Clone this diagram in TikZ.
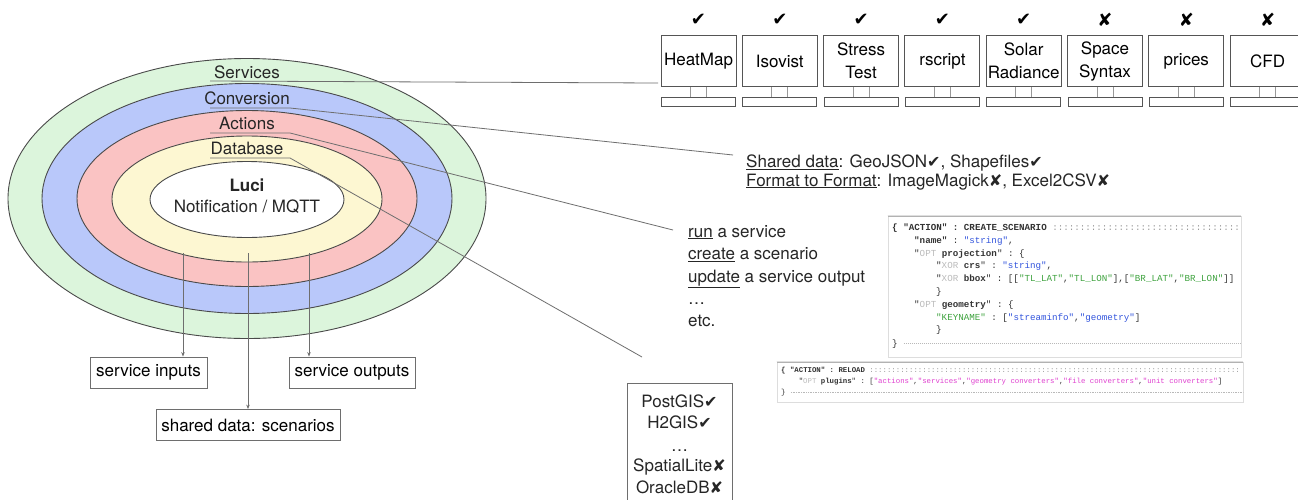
\documentclass[tikz,border=0pt]{standalone}
\usepackage{fontspec}
\setmainfont{TeX Gyre Heros}
\setmonofont{Liberation Mono}
\newfontfamily\symfont{DejaVu Sans}
\usetikzlibrary{shapes.geometric,arrows.meta}
\definecolor{cgreen}{HTML}{DCF5DC}
\definecolor{cblue}{HTML}{B9C8FA}
\definecolor{cred}{HTML}{FAC3C3}
\definecolor{cyellow}{HTML}{FDF7D2}
\definecolor{ringline}{HTML}{4A4A4A}
\definecolor{connline}{HTML}{6E6E6E}
\definecolor{monline}{HTML}{555555}
\definecolor{standline}{HTML}{999999}
\definecolor{codetext}{HTML}{333333}
\definecolor{codeblue}{HTML}{3355DD}
\definecolor{codegreen}{HTML}{3FA33F}
\definecolor{codegray}{HTML}{BBBBBB}
\definecolor{codemag}{HTML}{E040D0}
\definecolor{codeborder}{HTML}{DDDDDD}
\newcommand\ck{{\symfont\fontsize{16}{16}\selectfont ✔}}
\newcommand\xk{{\symfont\fontsize{16}{16}\selectfont ✘}}
\newcommand\bigck{{\symfont\fontsize{18}{18}\selectfont ✔}}
\newcommand\bigxk{{\symfont\fontsize{18}{18}\selectfont ✘}}
\newcommand\opt{\textcolor{codegray}{OPT}}
\newcommand\xor{\textcolor{codegray}{XOR}}
\newcommand\cb[1]{\textcolor{codeblue}{#1}}
\newcommand\cg[1]{\textcolor{codegreen}{#1}}
\newcommand\cm[1]{\textcolor{codemag}{#1}}
\newcommand\colonsA{::::::::::::::::::::::::::::::::::}
\newcommand\colonsB{::::::::::::::::::::::::::::::::::::::::::::::::::::::::::::::::::::::::::::::::::::}
\begin{document}
\begin{tikzpicture}[x=1pt,y=-1pt,
  ring/.style={ellipse, draw=ringline, line width=0.9pt, inner sep=0pt},
  lbl/.style={font=\fontsize{17}{20}\selectfont, inner sep=0pt, text=black!85},
  conn/.style={draw=connline, line width=0.8pt},
  arr/.style={conn, -{Stealth[length=4.5pt,width=3.5pt]}},
  plainbox/.style={draw=connline, line width=0.8pt, inner sep=0pt, minimum height=31pt, font=\fontsize{17}{20}\selectfont},
  screen/.style={draw=monline, line width=1pt, minimum width=75pt, minimum height=51pt, inner sep=0pt, align=center, font=\fontsize{17}{23}\selectfont},
  basebar/.style={draw=monline, line width=1pt, minimum width=74pt, minimum height=9pt, inner sep=0pt},
  stand/.style={draw=standline, line width=0.8pt},
  markn/.style={inner sep=0pt},
  txt/.style={font=\fontsize{17}{20}\selectfont, anchor=base west, inner sep=0pt, text=black!85},
  txtc/.style={font=\fontsize{17}{20}\selectfont, anchor=base, inner sep=0pt, text=black!85},
  codebox/.style={draw=codeborder, line width=0.8pt, fill=white, inner sep=0pt},
  codeA/.style={font=\fontsize{9.2}{11}\ttfamily, anchor=base west, inner sep=0pt, text=codetext},
  codeB/.style={font=\fontsize{7.35}{9}\ttfamily, anchor=base west, inner sep=0pt, text=codetext},
  topline/.style={draw=gray!60, double=gray!25, double distance=0.7pt, line width=0.6pt}
]
\useasboundingbox (0,0) rectangle (1298,499);
\fill[white] (0,0) rectangle (1298,499);

% ---------- rings ----------
\node[ring, fill=cgreen,  minimum width=478pt, minimum height=280pt] (rsvc) at (247,198.5) {};
\node[ring, fill=cblue,   minimum width=410pt, minimum height=230pt] (rconv) at (247,198.5) {};
\node[ring, fill=cred,    minimum width=340pt, minimum height=176pt] (ract) at (247,198.5) {};
\node[ring, fill=cyellow, minimum width=270pt, minimum height=126pt] (rdb) at (247,199) {};
\node[ring, fill=white,   minimum width=194pt, minimum height=76pt] (rcore) at (247,199.5) {};

\node[lbl] (lsvc)  at (247,72) {Services};
\node[lbl] (lconv) at (247,98) {Conversion};
\node[lbl] (lact)  at (247,123) {Actions};
\node[lbl] (ldb)   at (247,148) {Database};
\node[lbl, font=\fontsize{17}{20}\selectfont\bfseries] (luci) at (247,185) {Luci};
\node[lbl] (notif) at (247,207) {Notification / MQTT};

% ---------- monitors ----------
\foreach \i/\t/\m in {0/{HeatMap}/\bigck,1/{Isovist}/\bigck,2/{Stress\\Test}/\bigck,3/{rscript}/\bigck,4/{Solar\\Radiance}/\bigck,5/{Space\\Syntax}/\bigxk,6/{prices}/\bigxk,7/{CFD}/\bigxk}{
  \pgfmathsetmacro\cx{698.5+\i*81.3}
  \node[screen] (s\i) at (\cx,61) {\t};
  \node[basebar] (b\i) at (\cx,102) {};
  \draw[stand] ([xshift=-8pt]s\i.south) -- ([xshift=-8pt]b\i.north);
  \draw[stand] ([xshift=8pt]s\i.south) -- ([xshift=8pt]b\i.north);
  \node[markn] (c\i) at (\cx,20) {\m};
}

% ---------- connectors from ring labels ----------
\coordinate (k1a) at (210,81);
\coordinate (k1b) at (658,83);
\coordinate (k2a) at (210,108);
\coordinate (k2b) at (290,108);
\coordinate (k2c) at (733,155);
\coordinate (k3a) at (210,133);
\coordinate (k3b) at (290,133);
\coordinate (k3c) at (673,230);
\coordinate (k4a) at (210,158);
\coordinate (k4b) at (290,158);
\coordinate (k4c) at (642,357);
\draw[conn] (k1a) -- (k1b);
\draw[conn] (k2a) -- (k2b) -- (k2c);
\draw[conn] (k3a) -- (k3b) -- (k3c);
\draw[conn] (k4a) -- (k4b) -- (k4c);

% ---------- conversion text ----------
\node[txt] (conv1) at (746,167) {\underline{Shared data}: GeoJSON\ck, Shapefiles\ck};
\node[txt] (conv2) at (746,186) {\underline{Format to Format}: ImageMagick\xk, Excel2CSV\xk};

% ---------- actions text ----------
\node[txt] (act1) at (688,237) {\underline{run} a service};
\node[txt] (act2) at (688,259.5) {\underline{create} a scenario};
\node[txt] (act3) at (688,282) {\underline{update} a service output};
\node[txt] (act4) at (688,304) {\ldots};
\node[txt] (act5) at (688,326) {etc.};

% ---------- code block 1 ----------
\node[codebox, minimum width=353pt, minimum height=141pt] (cb1) at (1064.5,286.5) {};
\begin{scope}
\clip (cb1.north west) rectangle (cb1.south east);
\node[codeA] (q1) at (892,230) {\textbf{\{ "ACTION" : CREATE\_SCENARIO} \textcolor{gray!80}{\colonsA}};
\node[codeA] (q2) at (914,243) {\textbf{"name"} : \cb{"string"},};
\node[codeA] (q3) at (914,256) {"\opt{} \textbf{projection}" : \{};
\node[codeA] (q4) at (936,268) {"\xor{} \textbf{crs}" : \cb{"string"},};
\node[codeA] (q5) at (936,281) {"\xor{} \textbf{bbox}" : [[\cg{"TL\_LAT"},\cg{"TL\_LON"}],[\cg{"BR\_LAT"},\cg{"BR\_LON"}]]};
\node[codeA] (q6) at (936,294) {\}};
\node[codeA] (q7) at (914,307) {"\opt{} \textbf{geometry}" : \{};
\node[codeA] (q8) at (936,320) {\cg{"KEYNAME"} : [\cb{"streaminfo"},\cb{"geometry"}]};
\node[codeA] (q9) at (936,332) {\}};
\node[codeA] (q10) at (892,346) {\}};
\draw[gray!55, line width=0.6pt, dash pattern=on 1.2pt off 0.8pt] ([xshift=6pt]q10.east |- 0,343) -- (cb1.east |- 0,343);
\end{scope}
\draw[topline] (cb1.north west) -- (cb1.north east);

% ---------- code block 2 ----------
\node[codebox, minimum width=466pt, minimum height=40pt] (cb2) at (1010,382) {};
\begin{scope}
\clip (cb2.north west) rectangle (cb2.south east);
\node[codeB] (r1) at (781,372.5) {\textbf{\{ "ACTION" : RELOAD} \textcolor{gray!80}{\colonsB}};
\node[codeB] (r2) at (798.6,383.5) {"\opt{} \textbf{plugins}" : [\cm{"actions"},\cm{"services"},\cm{"geometry converters"},\cm{"file converters"},\cm{"unit converters"}]};
\node[codeB] (r3) at (781,394.5) {\}};
\draw[gray!55, line width=0.5pt, dash pattern=on 1pt off 0.7pt] ([xshift=5pt]r3.east |- 0,392) -- (cb2.east |- 0,392);
\end{scope}
\draw[topline] (cb2.north west) -- (cb2.north east);

% ---------- database box ----------
\node[draw=connline, line width=0.8pt, inner sep=0pt, minimum width=105pt, minimum height=140pt] (dbbox) at (679.5,453) {};
\node[txtc] (d1) at (679.5,407) {PostGIS\ck};
\node[txtc] (d2) at (679.5,428.5) {H2GIS\ck};
\node[txtc] (d3) at (679.5,451) {\ldots};
\node[txtc] (d4) at (679.5,471.5) {SpatialLite\xk};
\node[txtc] (d5) at (679.5,493) {OracleDB\xk};

% ---------- bottom boxes ----------
\node[plainbox, minimum width=117pt] (inp) at (148.5,372.5) {service inputs};
\node[plainbox, minimum width=126pt] (outp) at (352,372.5) {service outputs};
\node[plainbox, minimum width=184pt] (shd) at (248,425) {shared data: scenarios};
\coordinate (a1) at (183,253);
\coordinate (a2) at (248,253);
\coordinate (a3) at (309,253);
\draw[arr] (a1) -- (a1 |- inp.north);
\draw[arr] (a3) -- (a3 |- outp.north);
\draw[arr] (a2) -- (a2 |- shd.north);
\end{tikzpicture}
\end{document}
